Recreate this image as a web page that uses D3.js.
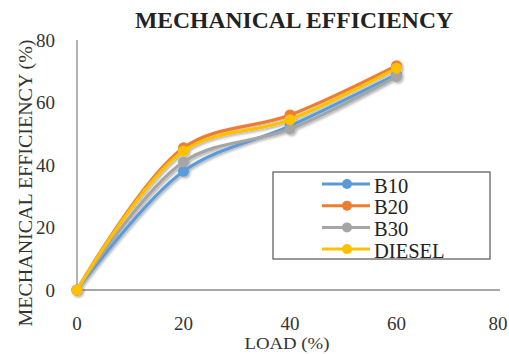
<!DOCTYPE html>
<html><head><meta charset="utf-8">
<script src="https://cdn.jsdelivr.net/npm/d3@7"></script>
<style>body{margin:0;background:#fff}svg{display:block}</style>
</head><body>
<svg id="c" width="509" height="354"></svg>
<script>
const loads = [0, 20, 40, 60];
const seriesNames = ["B10", "B20", "B30", "DIESEL"];
const b10 = [0, 38, 52.5, 69];
const b20 = [0, 45.5, 56, 71.8];
const b30 = [0, 41, 51.5, 68.3];
const diesel = [0, 44.5, 54.5, 71];
const colors = ["#5B9BD5", "#ED7D31", "#A5A5A5", "#FFC000"];
const xTicks = [0, 20, 40, 60, 80];
const yTicks = [0, 20, 40, 60, 80];

const allSeries = [b10, b20, b30, diesel];
const svg = d3.select("#c");
const font = "Liberation Serif, DejaVu Serif, serif";

const x = d3.scaleLinear().domain([0, 80]).range([77, 503]);
const y = d3.scaleLinear().domain([0, 80]).range([290, 40]);

const defs = svg.append("defs");
const f = defs.append("filter").attr("id","sh").attr("x","-10%").attr("y","-10%").attr("width","130%").attr("height","130%");
f.append("feDropShadow").attr("dx",1.5).attr("dy",1.5).attr("stdDeviation",1).attr("flood-color","#000").attr("flood-opacity",0.3);

// title
svg.append("text").attr("x", 294).attr("y", 28).attr("text-anchor","middle")
  .attr("font-family", font).attr("font-weight","bold").attr("font-size", 22.5).attr("fill","#222")
  .attr("textLength", 318).attr("lengthAdjust","spacingAndGlyphs")
  .text("MECHANICAL EFFICIENCY");

// axes lines
svg.append("line").attr("x1", x(0)).attr("x2", x(0)).attr("y1", y(80)).attr("y2", y(0)).attr("stroke","#8a8a8a").attr("stroke-width",1.3);
svg.append("line").attr("x1", x(0)).attr("x2", 500).attr("y1", y(0)).attr("y2", y(0)).attr("stroke","#8a8a8a").attr("stroke-width",1.3);

// tick labels
svg.append("g").selectAll("text").data(yTicks).join("text")
  .attr("x", 55).attr("y", d => y(d) + 6.5).attr("text-anchor","end")
  .attr("font-family", font).attr("font-size", 19).attr("fill","#333").text(d => d);
svg.append("g").selectAll("text").data(xTicks).join("text")
  .attr("x", d => x(d) - (d===80?5:0)).attr("y", 330).attr("text-anchor","middle")
  .attr("font-family", font).attr("font-size", 19).attr("fill","#333").text(d => d);

// axis titles
svg.append("text").attr("x", 287).attr("y", 349).attr("text-anchor","middle")
  .attr("font-family", font).attr("font-size", 16).attr("fill","#333")
  .attr("textLength", 85).attr("lengthAdjust","spacingAndGlyphs").text("LOAD (%)");
svg.append("text").attr("transform","translate(32,183) rotate(-90)").attr("text-anchor","middle")
  .attr("font-family", font).attr("font-size", 19).attr("fill","#333")
  .attr("textLength", 287).attr("lengthAdjust","spacingAndGlyphs").text("MECHANICAL EFFICIENCY  (%)");

// lines
const line = d3.line().x((d,i) => x(loads[i])).y(d => y(d)).curve(d3.curveCatmullRom.alpha(0.5));
const g = svg.append("g").attr("filter","url(#sh)");
allSeries.forEach((s, k) => {
  g.append("path").attr("d", line(s)).attr("fill","none").attr("stroke", colors[k]).attr("stroke-width", 3.2);
  g.selectAll(null).data(s).join("circle").attr("cx",(d,i)=>x(loads[i])).attr("cy", d=>y(d)).attr("r",5.5).attr("fill",colors[k]);
});

// legend
const lg = svg.append("g");
lg.append("rect").attr("x",273).attr("y",172).attr("width",217).attr("height",87).attr("fill","#fff").attr("stroke","#555").attr("stroke-width",1.2);
seriesNames.forEach((n,k) => {
  const yy = 184 + k*21.7;
  lg.append("line").attr("x1",322).attr("x2",370).attr("y1",yy).attr("y2",yy).attr("stroke",colors[k]).attr("stroke-width",3);
  lg.append("circle").attr("cx",347).attr("cy",yy).attr("r",5).attr("fill",colors[k]);
  lg.append("text").attr("x",374).attr("y",yy+8.5).attr("font-family",font).attr("font-size",20.5).attr("fill","#222").text(n);
});
</script>
</body></html>
